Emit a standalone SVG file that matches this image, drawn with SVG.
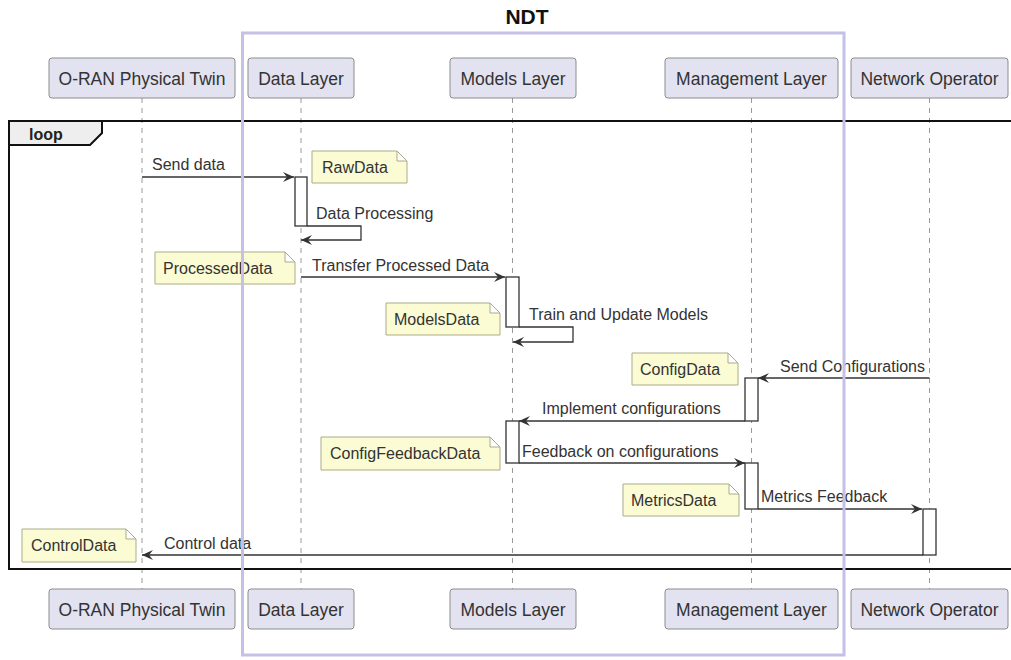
<svg xmlns="http://www.w3.org/2000/svg" width="1011" height="660" viewBox="0 0 1011 660">
<style>
  text { font-family: "Liberation Sans", Arial, sans-serif; fill: #333; }
  .pbox { fill: #E2E2F0; stroke: #8c8c8c; stroke-width: 1; }
  .ptxt { font-size: 17.5px; text-anchor: middle; }
  .life { stroke: #9a9a9a; stroke-width: 1; stroke-dasharray: 5 5; fill: none; }
  .msg { stroke: #333; stroke-width: 1.3; fill: none; marker-end: url(#arr); }
  .lbl { font-size: 16px; }
  .act { fill: #fff; stroke: #333; stroke-width: 1.3; }
  .note { fill: #FBFBD4; stroke: #ABAB86; stroke-width: 1; }
  .ntxt { font-size: 16px; }
  .frame { fill: none; stroke: #111; stroke-width: 2; }
  .ndt { fill: none; stroke: #C4C0E6; stroke-width: 3; }
</style>
<defs>
  <marker id="arr" viewBox="0 0 12 10" refX="11" refY="5" markerWidth="12" markerHeight="10" markerUnits="userSpaceOnUse" orient="auto">
    <path d="M0,0 L11,5 L0,10 L4,5 Z" fill="#333"/>
  </marker>
</defs>
<rect width="1011" height="660" fill="#fff"/>

<g id="lifelines">
  <line class="life" x1="142" y1="98" x2="142" y2="589"/>
  <line class="life" x1="301" y1="98" x2="301" y2="589"/>
  <line class="life" x1="512.5" y1="98" x2="512.5" y2="589"/>
  <line class="life" x1="751.5" y1="98" x2="751.5" y2="589"/>
  <line class="life" x1="929.5" y1="98" x2="929.5" y2="589"/>
</g>

<g id="loop">
  <rect class="frame" x="9" y="121" width="1010" height="448"/>
  <path d="M9,121 L102,121 L102,133 L90,145 L9,145 Z" fill="#EEEEEE" stroke="#111" stroke-width="2"/>
  <text x="29" y="140" style="font-size:16px;font-weight:bold;fill:#222">loop</text>
</g>

<g id="participant-oran">
  <rect class="pbox" x="49" y="58" width="186" height="40" rx="3"/>
  <text class="ptxt" x="142" y="85">O-RAN Physical Twin</text>
  <rect class="pbox" x="49" y="589" width="186" height="40" rx="3"/>
  <text class="ptxt" x="142" y="616">O-RAN Physical Twin</text>
</g>
<g id="participant-data">
  <rect class="pbox" x="248" y="58" width="106" height="40" rx="3"/>
  <text class="ptxt" x="301" y="85">Data Layer</text>
  <rect class="pbox" x="248" y="589" width="106" height="40" rx="3"/>
  <text class="ptxt" x="301" y="616">Data Layer</text>
</g>
<g id="participant-models">
  <rect class="pbox" x="450" y="58" width="126" height="40" rx="3"/>
  <text class="ptxt" x="513" y="85">Models Layer</text>
  <rect class="pbox" x="450" y="589" width="126" height="40" rx="3"/>
  <text class="ptxt" x="513" y="616">Models Layer</text>
</g>
<g id="participant-management">
  <rect class="pbox" x="665" y="58" width="173" height="40" rx="3"/>
  <text class="ptxt" x="751.5" y="85">Management Layer</text>
  <rect class="pbox" x="665" y="589" width="173" height="40" rx="3"/>
  <text class="ptxt" x="751.5" y="616">Management Layer</text>
</g>
<g id="participant-operator">
  <rect class="pbox" x="851" y="58" width="157" height="40" rx="3"/>
  <text class="ptxt" x="929.5" y="85">Network Operator</text>
  <rect class="pbox" x="851" y="589" width="157" height="40" rx="3"/>
  <text class="ptxt" x="929.5" y="616">Network Operator</text>
</g>

<g id="activations">
  <rect class="act" x="295" y="177" width="12" height="49"/>
  <rect class="act" x="506" y="277" width="13" height="50"/>
  <rect class="act" x="745" y="378" width="13" height="43"/>
  <rect class="act" x="506" y="421" width="13" height="42"/>
  <rect class="act" x="745" y="463" width="13" height="46"/>
  <rect class="act" x="923" y="509" width="13" height="46"/>
</g>

<g id="connectors">
  <line class="msg" x1="142" y1="177" x2="294" y2="177"/>
  <text class="lbl" x="152" y="170">Send data</text>
  <polyline class="msg" points="307,226 361,226 361,240 301,240"/>
  <text class="lbl" x="316" y="219">Data Processing</text>
  <line class="msg" x1="301" y1="277" x2="505" y2="277"/>
  <text class="lbl" x="312" y="271">Transfer Processed Data</text>
  <polyline class="msg" points="519,327 573,327 573,342 513,342"/>
  <text class="lbl" x="529" y="320">Train and Update Models</text>
  <line class="msg" x1="929.5" y1="378" x2="758" y2="378"/>
  <text class="lbl" x="780" y="372">Send Configurations</text>
  <line class="msg" x1="745" y1="421" x2="519" y2="421"/>
  <text class="lbl" x="542" y="414">Implement configurations</text>
  <line class="msg" x1="519" y1="463" x2="745" y2="463"/>
  <text class="lbl" x="522" y="457">Feedback on configurations</text>
  <line class="msg" x1="758" y1="509" x2="922" y2="509"/>
  <text class="lbl" x="761" y="502">Metrics Feedback</text>
  <line class="msg" x1="923" y1="555" x2="142" y2="555"/>
  <text class="lbl" x="164" y="549">Control data</text>
</g>

<g id="note-rawdata">
  <path class="note" d="M312,151 L397,151 L407,161 L407,183 L312,183 Z M397,151 L397,161 L407,161"/>
  <text class="ntxt" x="322" y="173">RawData</text>
</g>
<g id="note-processeddata">
  <path class="note" d="M155,252 L285,252 L295,262 L295,284 L155,284 Z M285,252 L285,262 L295,262"/>
  <text class="ntxt" x="163" y="274">ProcessedData</text>
</g>
<g id="note-modelsdata">
  <path class="note" d="M386,303 L490,303 L500,313 L500,335 L386,335 Z M490,303 L490,313 L500,313"/>
  <text class="ntxt" x="394" y="325">ModelsData</text>
</g>
<g id="note-configdata">
  <path class="note" d="M632,353 L728,353 L738,363 L738,385 L632,385 Z M728,353 L728,363 L738,363"/>
  <text class="ntxt" x="640" y="375">ConfigData</text>
</g>
<g id="note-configfeedbackdata">
  <path class="note" d="M321,437 L490,437 L500,447 L500,470 L321,470 Z M490,437 L490,447 L500,447"/>
  <text class="ntxt" x="330" y="459">ConfigFeedbackData</text>
</g>
<g id="note-metricsdata">
  <path class="note" d="M623,484 L729,484 L739,494 L739,516 L623,516 Z M729,484 L729,494 L739,494"/>
  <text class="ntxt" x="631" y="506">MetricsData</text>
</g>
<g id="note-controldata">
  <path class="note" d="M22,529 L126,529 L136,539 L136,562 L22,562 Z M126,529 L126,539 L136,539"/>
  <text class="ntxt" x="31" y="551">ControlData</text>
</g>

<g id="ndt-box">
  <rect class="ndt" x="242.5" y="33" width="601.5" height="622"/>
  <text x="527" y="24" text-anchor="middle" style="font-size:21px;font-weight:bold;fill:#111">NDT</text>
</g>
</svg>
